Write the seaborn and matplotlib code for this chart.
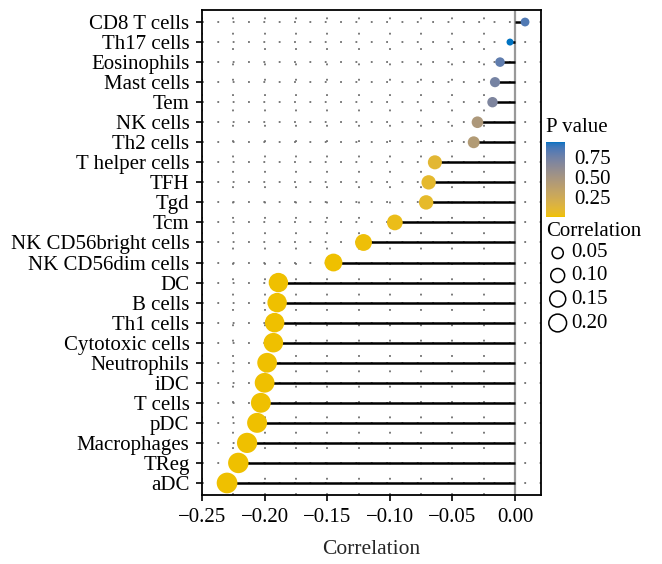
# %% libraries
import numpy as np
import pandas as pd
import matplotlib
matplotlib.use('Agg')
import matplotlib.pyplot as plt
import seaborn as sns
from matplotlib.colors import ListedColormap, Normalize
from matplotlib.cm import ScalarMappable

# %% data
cells = ['CD8 T cells', 'Th17 cells', 'Eosinophils', 'Mast cells', 'Tem', 'NK cells',
         'Th2 cells', 'T helper cells', 'TFH', 'Tgd', 'Tcm', 'NK CD56bright cells',
         'NK CD56dim cells', 'DC', 'B cells', 'Th1 cells', 'Cytotoxic cells', 'Neutrophils',
         'iDC', 'T cells', 'pDC', 'Macrophages', 'TReg', 'aDC']
corr = [0.008, -0.004, -0.012, -0.016, -0.018, -0.030, -0.033, -0.064, -0.069, -0.071,
        -0.096, -0.121, -0.145, -0.189, -0.190, -0.192, -0.193, -0.198, -0.200, -0.203,
        -0.206, -0.214, -0.221, -0.230]
pval = [0.84, 0.94, 0.80, 0.72, 0.69, 0.45, 0.42, 0.10, 0.08, 0.07, 0.03, 0.01,
        0.003, 0.0005, 0.0005, 0.0004, 0.0004, 0.0003, 0.0003, 0.0002, 0.0002,
        0.0001, 0.0001, 0.0001]
cbar_ticks = [0.25, 0.50, 0.75]
size_breaks = [0.05, 0.10, 0.15, 0.20]

df = pd.DataFrame({'cell': cells, 'corr': corr, 'pval': pval})
df['abs_r'] = df['corr'].abs().round(4)

# %% colour scale: gold -> blue interpolated in Lab (like ggplot)
M = np.array([[0.4124, 0.3576, 0.1805], [0.2126, 0.7152, 0.0722], [0.0193, 0.1192, 0.9505]])
WHITE = np.array([0.95047, 1.0, 1.08883])


def to_lab(hexcol):
    rgb = np.array(matplotlib.colors.to_rgb(hexcol))
    lin = np.where(rgb <= 0.04045, rgb / 12.92, ((rgb + 0.055) / 1.055) ** 2.4)
    xyz = M @ lin / WHITE
    f = np.where(xyz > 0.008856, np.cbrt(xyz), 7.787 * xyz + 16 / 116)
    return np.array([116 * f[1] - 16, 500 * (f[0] - f[1]), 200 * (f[1] - f[2])])


def to_rgb(lab):
    fy = (lab[:, 0] + 16) / 116
    f = np.stack([fy + lab[:, 1] / 500, fy, fy - lab[:, 2] / 200], -1)
    xyz = np.where(f ** 3 > 0.008856, f ** 3, (f - 16 / 116) / 7.787) * WHITE
    lin = np.clip(xyz @ np.linalg.inv(M).T, 0, 1)
    return np.clip(np.where(lin <= 0.0031308, 12.92 * lin, 1.055 * lin ** (1 / 2.4) - 0.055), 0, 1)


t = np.linspace(0, 1, 256)[:, None]
cmap = ListedColormap(to_rgb(to_lab('#EFC000') * (1 - t) + to_lab('#0073C2') * t))
pnorm = Normalize(min(pval), max(pval))

# %% size scale (area scale, diameter in px)
rmin, rmax = df['abs_r'].min(), df['abs_r'].max()


def dot_px(r):
    return 7 + 13.7 * np.sqrt(max(r - rmin, 0) / (rmax - rmin))


size_map = {r: (dot_px(r) * 0.72) ** 2 for r in df['abs_r']}

# %% style
sns.set_theme(style='white')
plt.rcParams['font.family'] = ['Liberation Serif', 'DejaVu Serif']
plt.rcParams['text.color'] = 'black'
FS = 15

W, H = 662, 564
fig = plt.figure(figsize=(W / 100, H / 100), dpi=100)
ax = fig.add_axes([202 / W, 1 - 495 / H, 338.7 / W, 485 / H])

dotted = dict(color='#6e6e6e', linestyle=(0, (1, 7.5)), linewidth=1.3)
ax.grid(True, which='both', axis='x', **dotted)
ax.grid(True, which='major', axis='y', **dotted)
ax.set_axisbelow(True)

ax.axvline(0, color='#999999', lw=1.6, zorder=1.5)
ax.hlines(df['cell'], 0, df['corr'], color='black', lw=1.8, zorder=2)
sns.scatterplot(data=df, x='corr', y='cell', hue='pval', palette=cmap, hue_norm=pnorm,
                size='abs_r', sizes=size_map, linewidth=0, legend=False, zorder=3, ax=ax)

xt = np.round(np.arange(-0.25, 0.001, 0.05), 2) + 0.0
ax.set_xlim(-0.25, 0.0205)
ax.set_ylim(len(cells) - 0.4, -0.6)
ax.set_xticks(xt)
ax.set_xticks(np.arange(-0.225, 0.0, 0.05), minor=True)
ax.set_xticklabels([f'{v:.2f}'.replace('-', '\u2212') if v < 0 else '0.00' for v in xt])
ax.tick_params(which='major', direction='out', length=4, width=1.2, color='black',
               labelsize=FS, labelcolor='black', left=True, bottom=True, pad=5)
ax.tick_params(which='minor', length=0)
ax.set_xlabel('Correlation', fontsize=FS + 0.5, labelpad=10)
ax.set_ylabel('')
for s in ax.spines.values():
    s.set_color('black')
    s.set_linewidth(1.3)

# %% legend: p value colour bar
fig.text(546 / W, 1 - 127 / H, 'P value', fontsize=FS, va='center', ha='left')
cax = fig.add_axes([546 / W, 1 - 216.7 / H, 19 / W, 74.7 / H])
cb = fig.colorbar(ScalarMappable(norm=pnorm, cmap=cmap), cax=cax, ticks=cbar_ticks)
cb.outline.set_visible(False)
cb.set_ticklabels([f'{v:.2f}' for v in cbar_ticks])
cax.minorticks_off()
cax.tick_params(direction='in', color='white', width=1.3, length=4, left=True, right=True,
                labelsize=FS, labelcolor='black', pad=7)

# %% legend: correlation sizes
fig.text(546 / W, 1 - 231 / H, 'Correlation', fontsize=FS, va='center', ha='left')
lax = fig.add_axes([540 / W, 1 - 340 / H, 120 / W, 100 / H])
lax.set_xlim(540, 660)
lax.set_ylim(340, 240)
lax.axis('off')
rows = [253, 275.5, 299, 323]
for b, yy in zip(size_breaks, rows):
    d = dot_px(b) - 2
    lax.scatter([557.7], [yy], s=(d * 0.72) ** 2, facecolor='none', edgecolor='black',
                linewidth=1.1, clip_on=False)
    lax.text(571, yy, f'{b:.2f}', fontsize=FS, va='center', ha='left')

fig.savefig('out.png', dpi=100)
